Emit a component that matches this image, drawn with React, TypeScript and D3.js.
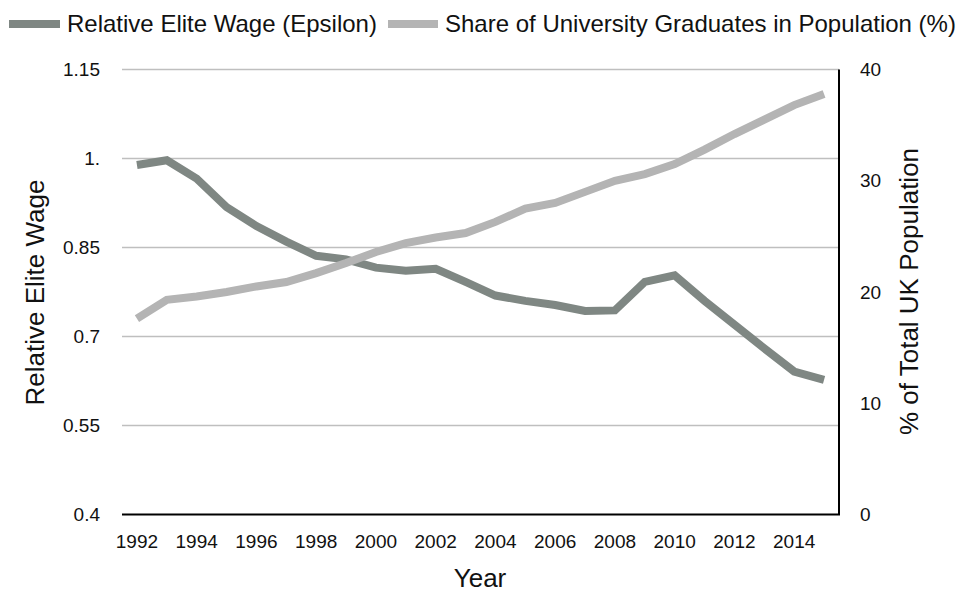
import React from "react";
import * as d3 from "d3";

const years: number[] = d3.range(1992, 2016);
const eliteWage: number[] = [
  0.989, 0.997, 0.966, 0.918, 0.886, 0.860, 0.836, 0.830, 0.816, 0.811, 0.814, 0.792,
  0.769, 0.760, 0.753, 0.743, 0.744, 0.792, 0.803, 0.760, 0.720, 0.680, 0.641, 0.627,
];
const gradShare: number[] = [
  17.6, 19.3, 19.6, 20.0, 20.5, 20.9, 21.7, 22.6, 23.6, 24.4, 24.9, 25.3,
  26.3, 27.5, 28.0, 29.0, 30.0, 30.6, 31.5, 32.8, 34.2, 35.5, 36.8, 37.8,
];
const leftTicks: number[] = [0.4, 0.55, 0.7, 0.85, 1.0, 1.15];
const leftTickLabels: string[] = ["0.4", "0.55", "0.7", "0.85", "1.", "1.15"];
const rightTicks: number[] = [0, 10, 20, 30, 40];
const xTickYears: number[] = years.filter((y) => (y - 1992) % 2 === 0);
const seriesNames: string[] = [
  "Relative Elite Wage (Epsilon)",
  "Share of University Graduates in Population (%)",
];

const W = 956;
const H = 592;
const X0 = 122;
const X1 = 839;
const YT = 69.5;
const YB = 514.5;
const DARK = "#7f8783";
const LIGHT = "#b4b4b4";
const FONT = "'Liberation Sans', Arial, Helvetica, sans-serif";

export default function App() {
  const x = d3.scaleBand<number>().domain(years).range([X0, X1]);
  const cx = (y: number) => (x(y) as number) + x.bandwidth() / 2;
  const yL = d3.scaleLinear().domain([0.4, 1.15]).range([YB, YT]);
  const yR = d3.scaleLinear().domain([0, 40]).range([YB, YT]);

  const lineL = d3
    .line<number>()
    .x((_, i) => cx(years[i]))
    .y((d) => yL(d));
  const lineR = d3
    .line<number>()
    .x((_, i) => cx(years[i]))
    .y((d) => yR(d));

  return (
    <svg
      width={W}
      height={H}
      style={{ position: "absolute", left: 0, top: 0, background: "#fff" }}
      fontFamily={FONT}
    >
      <rect width={W} height={H} fill="#fff" />
      {/* gridlines */}
      {leftTicks.slice(1).map((t) => (
        <line key={t} x1={X0} x2={X1} y1={yL(t)} y2={yL(t)} stroke="#bfbfbf" strokeWidth={1.6} />
      ))}
      {/* left tick labels */}
      {leftTicks.map((t, i) => (
        <text key={t} x={100} y={yL(t)} dy="0.35em" textAnchor="end" fontSize={19} fill="#111">
          {leftTickLabels[i]}
        </text>
      ))}
      {/* right tick labels */}
      {rightTicks.map((t) => (
        <text key={t} x={860} y={yR(t)} dy="0.35em" textAnchor="start" fontSize={19} fill="#111">
          {t}
        </text>
      ))}
      {/* x tick labels */}
      {xTickYears.map((yr) => (
        <text key={yr} x={cx(yr)} y={548} textAnchor="middle" fontSize={19} fill="#111">
          {yr}
        </text>
      ))}
      {/* lines */}
      <path d={lineL(eliteWage) || ""} fill="none" stroke={DARK} strokeWidth={8} strokeLinejoin="miter" />
      <path d={lineR(gradShare) || ""} fill="none" stroke={LIGHT} strokeWidth={8} strokeLinejoin="miter" />
      {/* axes */}
      <line x1={X0} x2={X1 + 1} y1={YB} y2={YB} stroke="#000" strokeWidth={2} />
      <line x1={X1} x2={X1} y1={YT} y2={YB} stroke="#000" strokeWidth={2} />
      {/* axis titles */}
      <text
        transform={`translate(44,292.5) rotate(-90)`}
        textAnchor="middle"
        fontSize={26}
        fill="#111"
      >
        Relative Elite Wage
      </text>
      <text
        transform={`translate(918,291.5) rotate(-90)`}
        textAnchor="middle"
        fontSize={26}
        fill="#111"
      >
        % of Total UK Population
      </text>
      <text x={480} y={587} textAnchor="middle" fontSize={26} fill="#111">
        Year
      </text>
      {/* legend */}
      <line x1={9} x2={60} y1={24} y2={24} stroke={DARK} strokeWidth={8} />
      <text x={67} y={32} fontSize={24} fill="#111">
        {seriesNames[0]}
      </text>
      <line x1={388} x2={438} y1={24} y2={24} stroke={LIGHT} strokeWidth={8} />
      <text x={445} y={32} fontSize={24} fill="#111">
        {seriesNames[1]}
      </text>
    </svg>
  );
}
